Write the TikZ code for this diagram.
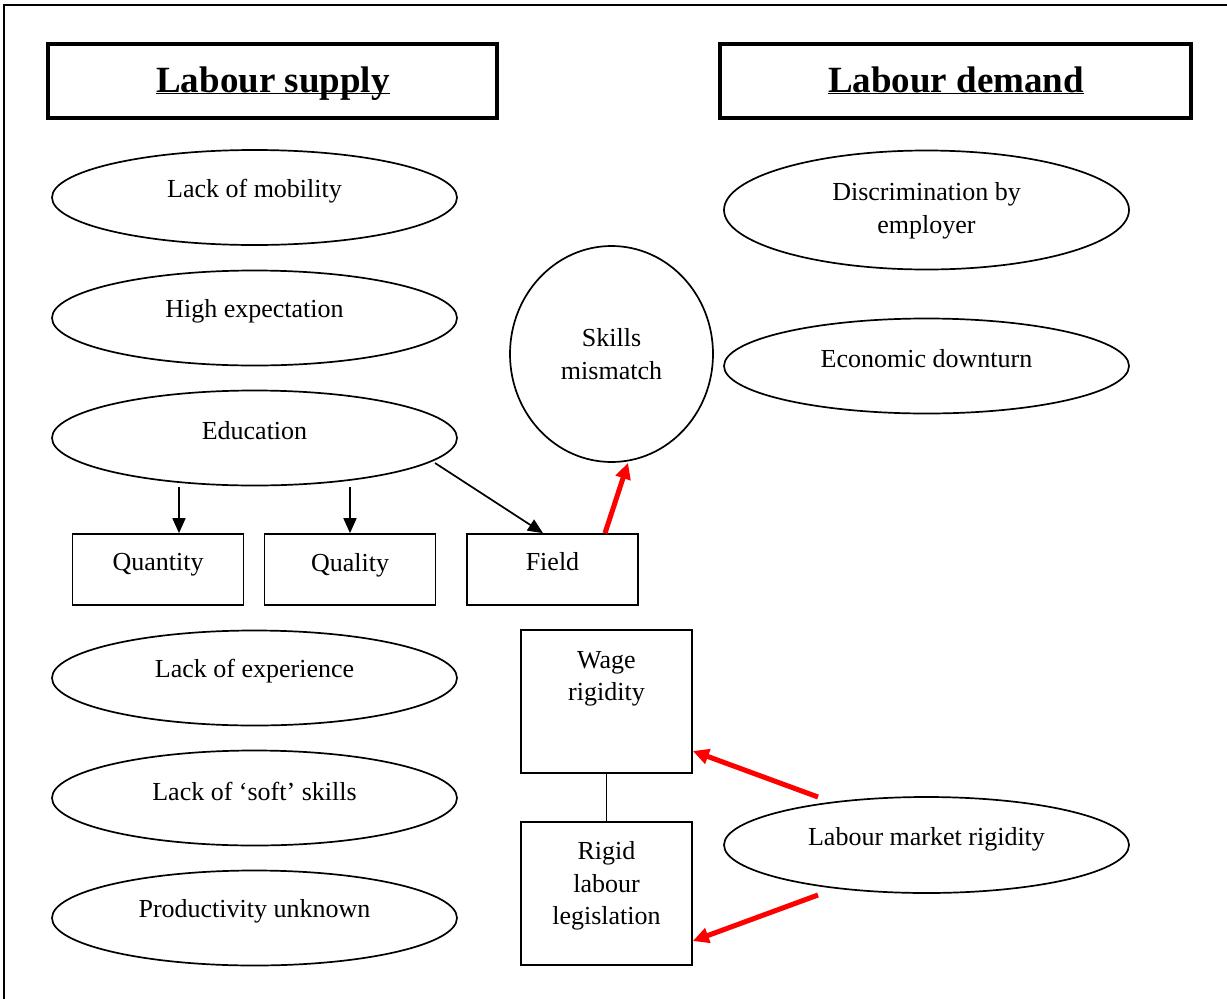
\documentclass[tikz,border=0pt]{standalone}
\usepackage{fontspec}
\setmainfont{Liberation Serif}
\usetikzlibrary{shapes.geometric,arrows.meta,calc}
\begin{document}
\begin{tikzpicture}[x=1pt,y=-1pt,
  every node/.style={inner sep=0pt},
  txt/.style={font=\fontsize{26}{32.5}\selectfont,align=center},
  ttl/.style={font=\fontsize{37}{44}\selectfont\bfseries,anchor=base},
  oval/.style={draw,line width=1.7pt,ellipse,minimum width=405pt,minimum height=95pt},
  titlebox/.style={draw,line width=3.4pt,minimum width=449pt,minimum height=74pt},
  cell/.style={draw,line width=1.7pt,minimum width=171pt,minimum height=71pt},
  tallcell/.style={draw,line width=1.7pt,minimum width=171pt,minimum height=143pt},
  blk/.style={line width=1.7pt,-{Triangle[length=15pt,width=13pt]}},
  redarr/.style={draw=red,line width=5pt,-{Triangle[length=16pt,width=15pt]}}]
\useasboundingbox (0,0) rectangle (1227,999);
% outer frame
\draw[line width=2pt] (4,999) -- (4,5) -- (1227,5);

% headings
\node[titlebox] (supply) at (272.5,81) {};
\node[ttl] (supplyt) at (273,92) {\underline{\smash{Labour supply}}};
\node[titlebox,minimum width=471pt] (demand) at (955.5,81) {};
\node[ttl] (demandt) at (956,92) {\underline{\smash{Labour demand}}};

% supply side ovals
\node[oval] (mob) at (254.5,197.5) {};
\node[txt] (mobt) at (254.5,191) {Lack of mobility};
\node[oval] (exp) at (254.5,318) {};
\node[txt] (expt) at (254.5,311) {High expectation};
\node[oval] (edu) at (254.5,438) {};
\node[txt] (edut) at (254.5,431) {Education};
\node[oval] (lexp) at (254.5,678) {};
\node[txt] (lexpt) at (254.5,671) {Lack of experience};
\node[oval] (soft) at (254.5,798) {};
\node[txt] (softt) at (254.5,791) {Lack of ‘soft’ skills};
\node[oval] (prod) at (254.5,918) {};
\node[txt] (prodt) at (254.5,911) {Productivity unknown};

% education breakdown
\node[cell] (qty) at (158,569.5) {};
\node[txt] (qtyt) at (158,565) {Quantity};
\node[cell] (qly) at (350,569.5) {};
\node[txt] (qlyt) at (350,565) {Quality};
\node[cell] (fld) at (552.5,569.5) {};
\node[txt] (fldt) at (552.5,562) {Field};
\coordinate (e1) at (179,487);
\coordinate (e2) at (350,487);
\coordinate (e3) at (435,463);
\draw[blk] (e1) -- (qty.north -| e1);
\draw[blk] (e2) -- (qly.north -| e2);
\draw[blk] (e3) -- (fld.north -| 543,0);

% skills mismatch
\node[draw,line width=1.7pt,ellipse,minimum width=203pt,minimum height=216pt] (skill) at (611.5,354) {};
\node[txt] (skillt) at (611.5,354) {Skills\\mismatch};
\draw[redarr] (fld.north -| 605,0) -- (skill.south -| 628,0);

% demand side ovals
\node[oval,minimum height=119pt] (disc) at (926.5,210) {};
\node[txt] (disct) at (926.5,211) {Discrimination by\\employer};
\node[oval] (econ) at (926.5,366) {};
\node[txt] (econt) at (926.5,359) {Economic downturn};
\node[oval,minimum height=96pt] (lmr) at (926.5,845) {};
\node[txt] (lmrt) at (926.5,839) {Labour market rigidity};

% rigidities
\node[tallcell] (wage) at (606.5,701.5) {};
\node[txt] (waget) at (606.5,679) {Wage\\rigidity};
\node[tallcell] (leg) at (606.5,893.5) {};
\node[txt] (legt) at (606.5,886) {Rigid\\labour\\legislation};
\draw[line width=1.7pt] (wage.south) -- (leg.north);
\coordinate (r1) at (818,797);
\coordinate (r2) at (818,895);
\draw[redarr] (r1) -- (wage.east |- 0,751);
\draw[redarr] (r2) -- (leg.east |- 0,941);
\end{tikzpicture}
\end{document}
